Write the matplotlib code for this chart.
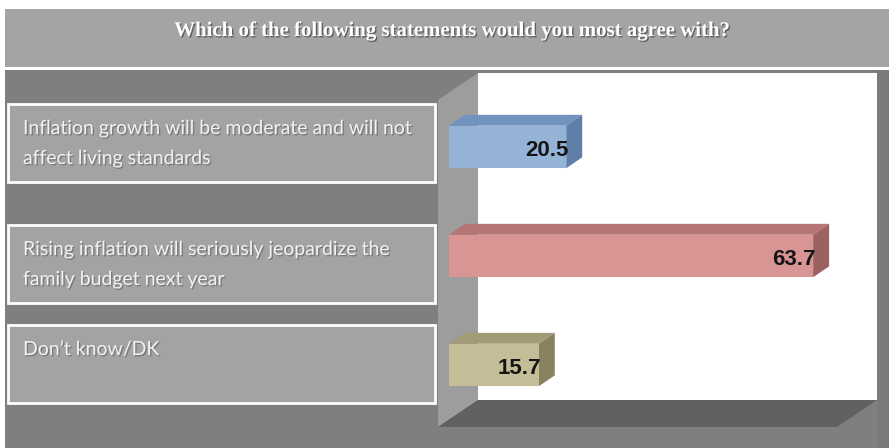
import matplotlib
matplotlib.use("Agg")
import matplotlib.pyplot as plt
from matplotlib.patches import Rectangle, Polygon
import matplotlib.patheffects as pe

title = "Which of the following statements would you most agree with?"
answers = ["Inflation growth will be moderate and will not\naffect living standards",
           "Rising inflation will seriously jeopardize the\nfamily budget next year",
           "Don\u2019t know/DK"]
shares = [20.5, 63.7, 15.7]
front_cols = ["#95b3d7", "#d99594", "#c4bd97"]
top_cols = ["#7393bf", "#b57575", "#a19b78"]
side_cols = ["#607fa8", "#9c6262", "#87825f"]

W, H = 889, 448
fig = plt.figure(figsize=(W / 100, H / 100), dpi=100)
fig.patch.set_facecolor("white")

# background layer in pixel units (y grows downward)
bg = fig.add_axes([0, 0, 1, 1])
bg.set_xlim(0, W)
bg.set_ylim(H, 0)
bg.axis("off")

bg.add_patch(Rectangle((5, 9), W - 5, 59, fc="#a4a4a4", ec="none"))
bg.plot([5, W], [68.5, 68.5], color="white", lw=1.5)
bg.add_patch(Rectangle((5, 70), W - 5, H - 70, fc="#7f7f7f", ec="none"))
bg.add_patch(Rectangle((877, 70), W - 877, H - 70, fc="#7a7a7a", ec="none"))
bg.text(453, 31, title, ha="center", va="center", color="white",
        fontsize=15, fontweight="bold", family="Liberation Serif",
        path_effects=[pe.withSimplePatchShadow(offset=(1, -1), shadow_rgbFace="#505050", alpha=0.8)])

# 3D walls of the chart
bg.add_patch(Polygon([(438, 100), (478, 73), (478, 400), (438, 427)], fc="#9d9d9d", ec="none"))
bg.add_patch(Polygon([(438, 427), (478, 400), (877, 400), (837, 427)], fc="#616161", ec="none"))
bg.add_patch(Rectangle((478, 73), 399, 327, fc="white", ec="none"))

# answer boxes
box_tops = [104, 225, 325]
for top, txt in zip(box_tops, answers):
    bg.add_patch(Rectangle((8, top), 427, 78, fc="#a3a3a3", ec="white", lw=2))
    for i, line in enumerate(txt.split("\n")):
        bg.text(23, top + 30 + i * 30, line, ha="left", va="baseline",
                color="#f2f2f2", fontsize=14, family="Lato",
                path_effects=[pe.withSimplePatchShadow(offset=(1, -1), shadow_rgbFace="#6a6a6a", alpha=0.7)])

# bars in value units
ax = fig.add_axes([438 / W, (H - 430) / H, (880 - 438) / W, (430 - 70) / H])
ax.patch.set_alpha(0)
ax.axis("off")
ax.set_xlim(-1.93, 75.4)
ax.set_ylim(2.596, -0.706)

pos = list(range(len(shares)))
bh = 0.39
dx, dy = 2.8, -0.10
ax.barh(pos, shares, height=bh, color=front_cols, zorder=3)
for p, v, tc, sc in zip(pos, shares, top_cols, side_cols):
    y0, y1 = p - bh / 2, p + bh / 2
    ax.add_patch(Polygon([(0, y0), (dx, y0 + dy), (v + dx, y0 + dy), (v, y0)], fc=tc, ec="none", zorder=2))
    ax.add_patch(Polygon([(v, y0), (v + dx, y0 + dy), (v + dx, y1 + dy), (v, y1)], fc=sc, ec="none", zorder=2))
    ax.text(v + 0.4, p + 0.03, f"{v:.1f}", ha="right", va="center", fontsize=16,
            fontweight="bold", family="Liberation Sans", color="#151515", zorder=4)

fig.savefig("out.png", dpi=100)
